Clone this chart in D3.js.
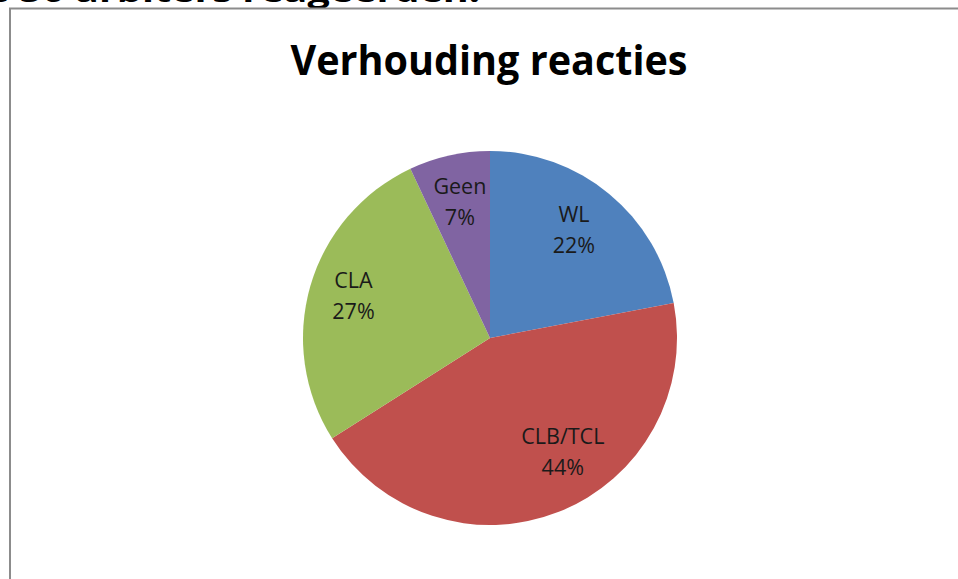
<!DOCTYPE html>
<html>
<head>
<meta charset="utf-8">
<script src="https://cdn.jsdelivr.net/npm/d3@7"></script>
<style>
  html, body { margin: 0; padding: 0; background: #fff; overflow: hidden; }
  svg { display: block; }
</style>
</head>
<body>
<svg id="chart" width="958" height="579"></svg>
<script>
/* Pie chart "Verhouding reacties" */

const categories = ["WL", "CLB/TCL", "CLA", "Geen"];
const values     = [22, 44, 27, 7];
const colors     = ["#4F81BD", "#C0504D", "#9BBB59", "#8064A2"];

/* Excel's best-fit label placement, relative to the slice centroid. */
const labelNudge = [[-4, -2], [22, -14], [-4, -3], [0, -1]];

const W = 958, H = 579;
const CX = 490, CY = 338, R = 187;
const LABEL_R = 138;

const svg = d3.select("#chart");

/* ---------- CROPPED TEXT ABOVE THE FRAME ---------- */

svg.append("text")
  .attr("x", -14)
  .attr("y", 2)
  .attr("textLength", 494)
  .attr("lengthAdjust", "spacingAndGlyphs")
  .style("font-family", "'Open Sans', sans-serif")
  .style("font-weight", "bold")
  .style("font-size", "30px")
  .attr("fill", "#000")
  .text("e 50 arbiters reageerden.");

/* ---------- FRAME ---------- */

svg.append("rect")
  .attr("x", 10)
  .attr("y", 8.5)
  .attr("width", W + 20)
  .attr("height", H + 20)
  .attr("fill", "#fff")
  .attr("stroke", "#8c8c8c")
  .attr("stroke-width", 2);

/* ---------- TITLE ---------- */

svg.append("text")
  .attr("x", 489)
  .attr("y", 75)
  .attr("text-anchor", "middle")
  .attr("textLength", 397)
  .attr("lengthAdjust", "spacingAndGlyphs")
  .style("font-family", "'Open Sans', sans-serif")
  .style("font-weight", "bold")
  .style("font-size", "42px")
  .attr("fill", "#000")
  .text("Verhouding reacties");

/* ---------- PIE ---------- */

const data = categories.map(function (c, i) {
  return { name: c, value: values[i], color: colors[i], nudge: labelNudge[i] };
});

const pie = d3.pie()
  .sort(null)
  .value(function (d) { return d.value; });

const arc = d3.arc().innerRadius(0).outerRadius(R);
const labelArc = d3.arc().innerRadius(LABEL_R).outerRadius(LABEL_R);

const g = svg.append("g").attr("transform", "translate(" + CX + "," + CY + ")");

const arcs = pie(data);

g.selectAll("path.slice")
  .data(arcs)
  .enter()
  .append("path")
  .attr("class", "slice")
  .attr("d", arc)
  .attr("fill", function (d) { return d.data.color; });

const labels = g.selectAll("text.label")
  .data(arcs)
  .enter()
  .append("text")
  .attr("class", "label")
  .attr("transform", function (d) {
    const c = labelArc.centroid(d);
    return "translate(" + (c[0] + d.data.nudge[0]) + "," + (c[1] + d.data.nudge[1]) + ")";
  })
  .attr("text-anchor", "middle")
  .style("font-family", "'Open Sans', sans-serif")
  .style("font-size", "21.5px")
  .attr("fill", "#1a1a1a");

labels.append("tspan")
  .attr("x", 0)
  .attr("y", -8)
  .text(function (d) { return d.data.name; });

labels.append("tspan")
  .attr("x", 0)
  .attr("y", 23)
  .text(function (d) { return d.data.value + "%"; });
</script>
</body>
</html>
